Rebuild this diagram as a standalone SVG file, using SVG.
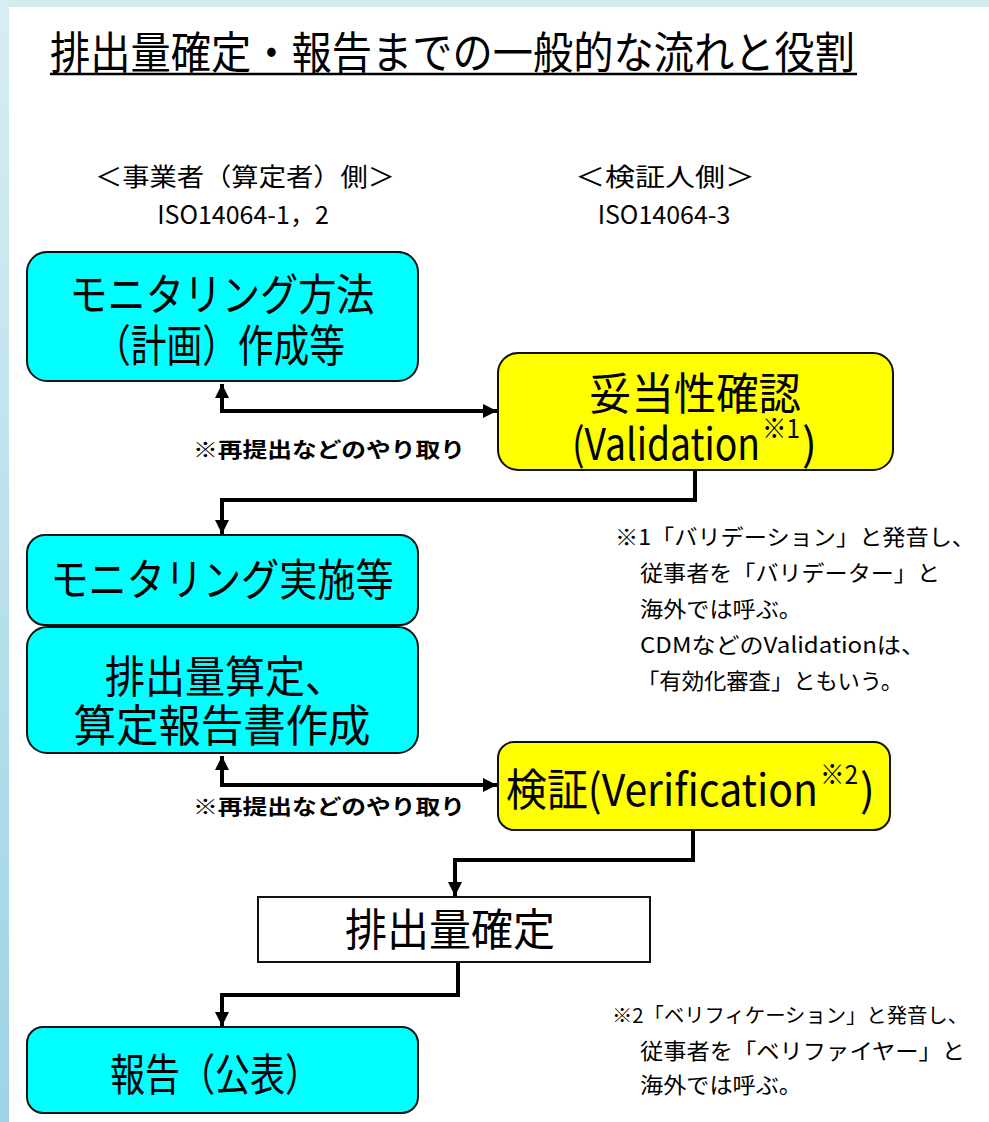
<svg xmlns="http://www.w3.org/2000/svg" width="989" height="1122" viewBox="0 0 989 1122">
<defs>
<linearGradient id="lg" x1="0" y1="0" x2="0" y2="1">
<stop offset="0" stop-color="#d6eef1"/>
<stop offset="1" stop-color="#9ed3e6"/>
</linearGradient>
<marker id="ah" viewBox="0 0 10 10" refX="10" refY="5" markerWidth="16" markerHeight="14" markerUnits="userSpaceOnUse" orient="auto-start-reverse">
<path d="M0,0 L10,5 L0,10 z" fill="#000"/>
</marker>
<style>
.jp{font-family:"Noto Sans CJK JP","Noto Sans",sans-serif;fill:#000;}
.big{font-size:44px;text-anchor:middle;}
.bigl{font-size:44px;}
.sup{font-size:26px;}
.hdr{font-size:25px;text-anchor:middle;}
.note{font-size:22px;}
.note2{font-size:20px;}
.lbl{font-size:21px;font-weight:bold;}
.cyan{fill:#00ffff;stroke:#111;stroke-width:2;}
.yel{fill:#ffff00;stroke:#111;stroke-width:2;}
.wht{fill:#fff;stroke:#111;stroke-width:2;}
.con{fill:none;stroke:#000;stroke-width:4;}
</style>
</defs>
<rect x="0" y="0" width="989" height="1122" fill="#fff"/>
<rect x="0" y="0" width="989" height="7" fill="#d4ecef"/>
<rect x="0" y="0" width="9" height="1122" fill="url(#lg)"/>

<g id="title">
<text class="jp" x="50" y="69" font-size="44" textLength="805" lengthAdjust="spacingAndGlyphs">排出量確定・報告までの一般的な流れと役割</text>
<line x1="50" y1="74" x2="857" y2="74" stroke="#000" stroke-width="2.5"/>
</g>

<g id="headers">
<text class="jp hdr" x="245" y="186" textLength="300" lengthAdjust="spacingAndGlyphs">＜事業者（算定者）側＞</text>
<text class="jp hdr" x="243" y="224">ISO14064-1，2</text>
<text class="jp hdr" x="665" y="186" textLength="180" lengthAdjust="spacingAndGlyphs">＜検証人側＞</text>
<text class="jp hdr" x="664" y="224">ISO14064-3</text>
</g>

<g id="connectors">
<path class="con" d="M222,384 L222,411 L497,411" marker-start="url(#ah)" marker-end="url(#ah)"/>
<path class="con" d="M695,471 L695,500 L222,500 L222,534" marker-end="url(#ah)"/>
<path class="con" d="M222,756 L222,785 L497,785" marker-start="url(#ah)" marker-end="url(#ah)"/>
<path class="con" d="M693,831 L693,860 L455,860 L455,896" marker-end="url(#ah)"/>
<path class="con" d="M458,963 L458,995 L222,995 L222,1026" marker-end="url(#ah)"/>
</g>

<g id="label1">
<text class="jp lbl" x="193" y="457" textLength="272" lengthAdjust="spacingAndGlyphs">※再提出などのやり取り</text>
</g>
<g id="label2">
<text class="jp lbl" x="193" y="814" textLength="272" lengthAdjust="spacingAndGlyphs">※再提出などのやり取り</text>
</g>

<g id="box1">
<rect class="cyan" x="27" y="252" width="391" height="129" rx="20"/>
<text class="jp big" x="222" y="311" textLength="305" lengthAdjust="spacingAndGlyphs">モニタリング方法</text>
<text class="jp big" x="220" y="362" textLength="250" lengthAdjust="spacingAndGlyphs">（計画）作成等</text>
</g>

<g id="box2">
<rect class="yel" x="498" y="353" width="395" height="117" rx="20"/>
<text class="jp big" x="695" y="410" textLength="212" lengthAdjust="spacingAndGlyphs">妥当性確認</text>
<text class="jp bigl" x="572" y="460" textLength="188" lengthAdjust="spacingAndGlyphs">(Validation</text>
<text class="jp sup" x="762" y="438" textLength="38" lengthAdjust="spacingAndGlyphs">※1</text>
<text class="jp bigl" x="802" y="460">)</text>
</g>

<g id="box3">
<rect class="cyan" x="27" y="535" width="391" height="90" rx="18"/>
<text class="jp big" x="222" y="596" textLength="343" lengthAdjust="spacingAndGlyphs">モニタリング実施等</text>
</g>

<g id="box4">
<rect class="cyan" x="27" y="627" width="391" height="126" rx="20"/>
<text class="jp big" x="225" y="693" textLength="240" lengthAdjust="spacingAndGlyphs">排出量算定、</text>
<text class="jp big" x="222" y="742" textLength="297" lengthAdjust="spacingAndGlyphs">算定報告書作成</text>
</g>

<g id="box5">
<rect class="yel" x="498" y="742" width="392" height="88" rx="16"/>
<text class="jp bigl" x="506" y="806" textLength="312" lengthAdjust="spacingAndGlyphs">検証(Verification</text>
<text class="jp sup" x="820" y="784" textLength="38" lengthAdjust="spacingAndGlyphs">※2</text>
<text class="jp bigl" x="860" y="806">)</text>
</g>

<g id="box6">
<rect class="wht" x="258" y="897" width="392" height="65"/>
<text class="jp big" x="450" y="946" textLength="210" lengthAdjust="spacingAndGlyphs">排出量確定</text>
</g>

<g id="box7">
<rect class="cyan" x="27" y="1027" width="391" height="86" rx="16"/>
<text class="jp big" x="215" y="1091" textLength="210" lengthAdjust="spacingAndGlyphs">報告（公表）</text>
</g>

<g id="note1">
<text class="jp note" x="615" y="545" textLength="360" lengthAdjust="spacingAndGlyphs">※1「バリデーション」と発音し、</text>
<text class="jp note" x="640" y="581" textLength="300" lengthAdjust="spacingAndGlyphs">従事者を「バリデーター」と</text>
<text class="jp note" x="640" y="617" textLength="162" lengthAdjust="spacingAndGlyphs">海外では呼ぶ。</text>
<text class="jp note" x="640" y="653" textLength="285" lengthAdjust="spacingAndGlyphs">CDMなどのValidationは、</text>
<text class="jp note" x="637" y="689" textLength="266" lengthAdjust="spacingAndGlyphs">「有効化審査」ともいう。</text>
</g>

<g id="note2">
<text class="jp note2" x="612" y="1023" textLength="356" lengthAdjust="spacingAndGlyphs">※2「ベリフィケーション」と発音し、</text>
<text class="jp note" x="640" y="1059" textLength="325" lengthAdjust="spacingAndGlyphs">従事者を「ベリファイヤー」と</text>
<text class="jp note" x="640" y="1093" textLength="162" lengthAdjust="spacingAndGlyphs">海外では呼ぶ。</text>
</g>
</svg>
